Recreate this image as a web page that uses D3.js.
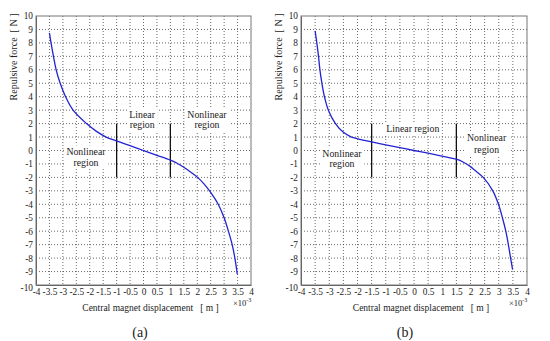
<!DOCTYPE html>
<html>
<head>
<meta charset="UTF-8">
<script src="https://d3js.org/d3.v7.min.js"></script>
<style>
  body { margin: 0; background: #fff; }
  svg text { white-space: pre; }
  .grid line { stroke: #444; stroke-width: 0.8; stroke-dasharray: 1,2; }
  .curve { fill: none; stroke: #2323d2; stroke-width: 1.3; }
</style>
</head>
<body>
<div id="chart"></div>
<script>
const SERIF = "'Liberation Serif', 'Times New Roman', Times, serif";

// tick values (displacement in 1e-3 m, force in N)
const xTicks = [-4, -3.5, -3, -2.5, -2, -1.5, -1, -0.5, 0, 0.5, 1, 1.5, 2, 2.5, 3, 3.5, 4];
const yTicks = [-10, -9, -8, -7, -6, -5, -4, -3, -2, -1, 0, 1, 2, 3, 4, 5, 6, 7, 8, 9, 10];

// panel (a)
const dispA  = [-3.5, -3.44, -3.35, -3.25, -3.1, -2.9, -2.62, -2.12, -1.75, -1.39, -1.0, -0.5, 0, 0.5, 1.0, 1.25, 1.5, 1.75, 2.0, 2.25, 2.5, 2.78, 3.0, 3.16, 3.3, 3.4, 3.49];
const forceA = [8.75, 8, 7, 6, 5, 4, 3, 2, 1.42, 1.0, 0.72, 0.36, 0, -0.36, -0.72, -0.95, -1.25, -1.6, -1.98, -2.48, -3.12, -4, -5, -6, -7, -8, -9.2];
const boundsA = [-1, 1];

// panel (b)
const dispB  = [-3.5, -3.44, -3.38, -3.33, -3.26, -3.17, -3.03, -2.78, -2.5, -2.23, -2.0, -1.75, -1.5, -1.0, -0.5, 0, 0.5, 1.0, 1.5, 1.75, 2.0, 2.12, 2.45, 2.79, 2.99, 3.13, 3.25, 3.34, 3.42, 3.49];
const forceB = [8.9, 8, 7, 6, 5, 4, 3, 2, 1.35, 1.02, 0.87, 0.75, 0.64, 0.42, 0.21, 0, -0.2, -0.42, -0.65, -0.87, -1.2, -1.42, -2, -3, -4, -5, -6, -7, -8, -8.85];
const boundsB = [-1.5, 1.5];

const panels = [
  {left: 36, right: 251, top: 16, bottom: 285, xs: dispA, ys: forceA, bounds: boundsA, tag: "(a)",
   labels: [
     {x: -0.05, y: [2.7, 1.9], lines: ["Linear", "region"]},
     {x: 2.36,  y: [2.7, 1.9], lines: ["Nonlinear", "region"]},
     {x: -2.14, y: [-0.1, -0.9], lines: ["Nonlinear", "region"]}
   ]},
  {left: 301, right: 527, top: 16, bottom: 285, xs: dispB, ys: forceB, bounds: boundsB, tag: "(b)",
   labels: [
     {x: -0.04, y: [1.6], lines: ["Linear region"]},
     {x: 2.57,  y: [0.93, 0.05], lines: ["Nonlinear", "region"]},
     {x: -2.55, y: [-0.2, -1.0], lines: ["Nonlinear", "region"]}
   ]}
];

const svg = d3.select("#chart").append("svg")
  .attr("width", 550).attr("height", 341)
  .attr("font-family", SERIF);

panels.forEach(p => {
  const x = d3.scaleLinear().domain([-4, 4]).range([p.left, p.right]);
  const y = d3.scaleLinear().domain([-10, 10]).range([p.bottom, p.top]);
  const g = svg.append("g");

  // dotted grid
  const grid = g.append("g").attr("class", "grid");
  grid.selectAll(".gx").data(xTicks.slice(1, -1)).join("line")
    .attr("x1", d => x(d)).attr("x2", d => x(d))
    .attr("y1", p.top).attr("y2", p.bottom);
  grid.selectAll(".gy").data(yTicks.slice(1, -1)).join("line")
    .attr("y1", d => y(d)).attr("y2", d => y(d))
    .attr("x1", p.left).attr("x2", p.right);

  // region boundaries
  g.selectAll(".bound").data(p.bounds).join("line")
    .attr("x1", d => x(d)).attr("x2", d => x(d))
    .attr("y1", y(2)).attr("y2", y(-2))
    .attr("stroke", "#111").attr("stroke-width", 1.3);

  // region labels with white background
  p.labels.forEach(l => {
    const tg = g.append("g");
    const t = tg.append("text").attr("text-anchor", "middle")
      .attr("font-family", SERIF).attr("font-size", 9.8).attr("fill", "#222");
    l.lines.forEach((s, i) => {
      t.append("tspan").attr("x", x(l.x)).attr("y", y(l.y[i]) + 3.5).text(s);
    });
    const bb = t.node().getBBox();
    tg.insert("rect", "text")
      .attr("x", bb.x - 2).attr("y", bb.y - 1)
      .attr("width", bb.width + 4).attr("height", bb.height + 2)
      .attr("fill", "#fff");
  });

  // curve
  const line = d3.line().x(d => x(d[0])).y(d => y(d[1])).curve(d3.curveCatmullRom.alpha(0.5));
  g.append("path").attr("class", "curve")
    .datum(p.xs.map((v, i) => [v, p.ys[i]]))
    .attr("d", line);

  // frame
  g.append("rect")
    .attr("x", p.left).attr("y", p.top)
    .attr("width", p.right - p.left).attr("height", p.bottom - p.top)
    .attr("fill", "none").attr("stroke", "#777").attr("stroke-width", 1);

  // axes
  const fmt = d => String(d);
  const ax = g.append("g").attr("transform", `translate(0,${p.bottom})`)
    .call(d3.axisBottom(x).tickValues(xTicks).tickSize(0).tickPadding(3).tickFormat(fmt));
  const ay = g.append("g").attr("transform", `translate(${p.left},0)`)
    .call(d3.axisLeft(y).tickValues(yTicks).tickSize(0).tickPadding(3).tickFormat(fmt));
  [ax, ay].forEach(a => {
    a.attr("font-family", SERIF).attr("font-size", 9.3);
    a.select(".domain").attr("stroke", "#666");
    a.selectAll("text").attr("fill", "#222");
  });
  ay.selectAll(".tick").filter(d => d === -10).select("text").attr("dy", "0.6em");

  // axis titles
  const cx = (p.left + p.right) / 2;
  g.append("text").attr("x", cx + 7).attr("y", 311).attr("text-anchor", "middle")
    .attr("font-size", 9.5).attr("fill", "#222")
    .text("Central magnet displacement   [ m ]");
  const ex = g.append("text").attr("x", p.right - 18).attr("y", 306)
    .attr("font-size", 8.5).attr("fill", "#222");
  ex.append("tspan").text("×10");
  ex.append("tspan").attr("dy", -4).attr("font-size", 6).text("-3");
  g.append("text").attr("transform", `translate(${p.left - 19},57) rotate(-90)`)
    .attr("text-anchor", "middle").attr("font-size", 10).attr("fill", "#222")
    .text("Repulsive force  [ N ]");

  // panel tag
  g.append("text").attr("x", cx + (p.tag === "(a)" ? -3.5 : -9)).attr("y", 337)
    .attr("text-anchor", "middle").attr("font-size", 14).attr("fill", "#222")
    .text(p.tag);
});
</script>
</body>
</html>
